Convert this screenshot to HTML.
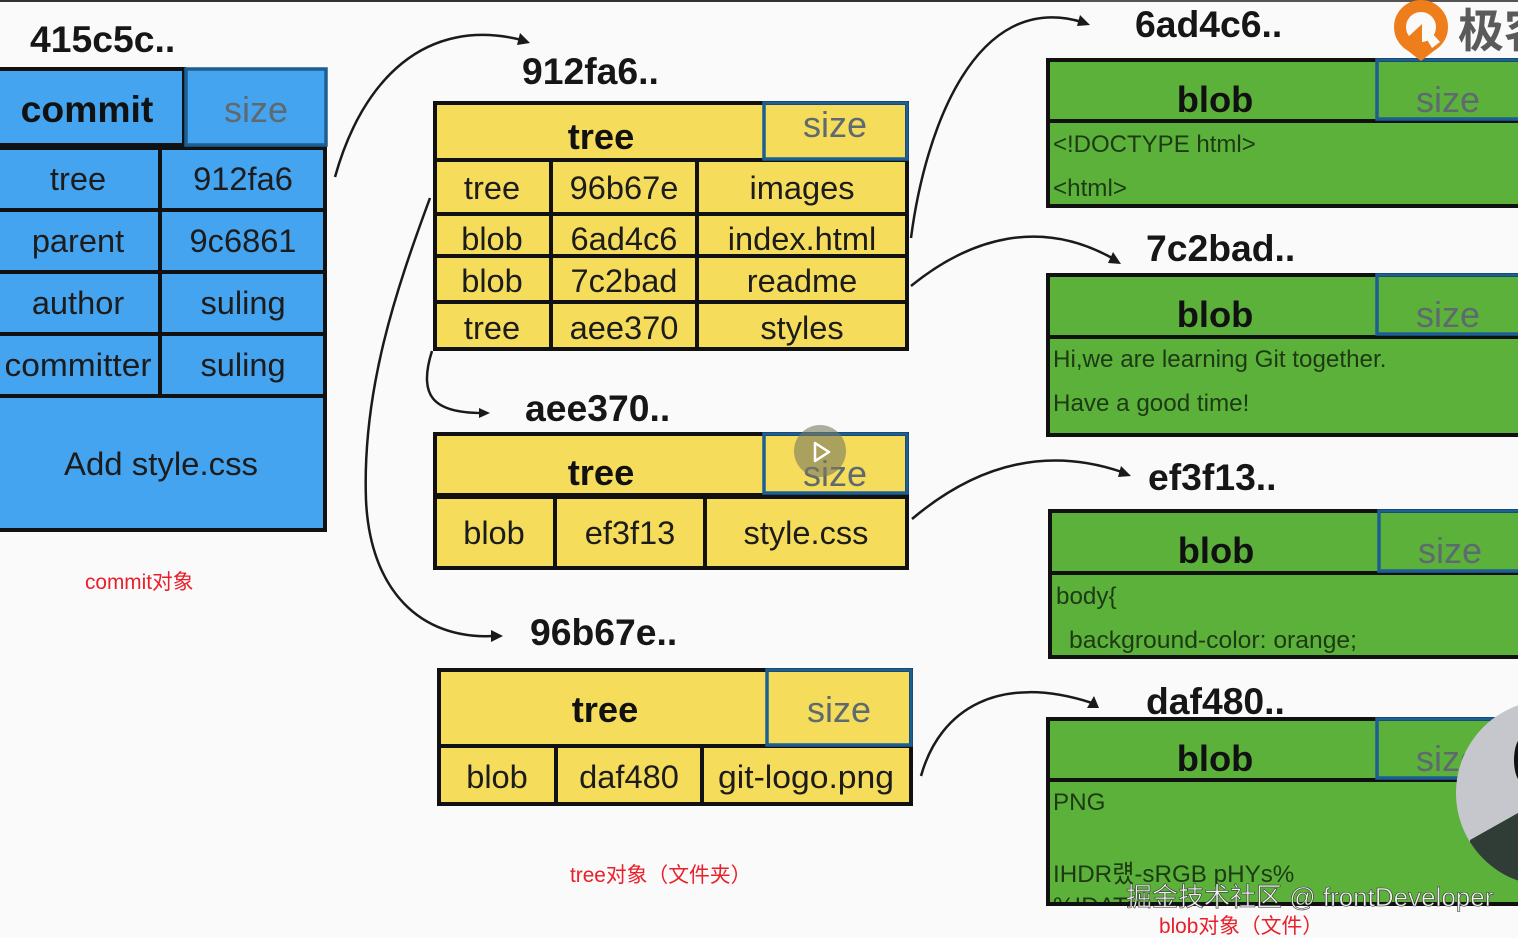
<!DOCTYPE html>
<html><head><meta charset="utf-8">
<style>
html,body{margin:0;padding:0;background:#fafafa}
svg{display:block}
text{font-family:"Liberation Sans","Noto Sans CJK SC",sans-serif;fill:#1c1c1c}
.t{font-size:37.3px;font-weight:bold;fill:#161616}
.h{font-size:36.3px;font-weight:bold;text-anchor:middle;fill:#111}
.s{font-size:36px;text-anchor:middle;fill:#5f6a70}
.c{font-size:32.6px;text-anchor:middle}
.b{font-size:24.2px;fill:#1d3a14}
.r{font-size:20.8px;fill:#e8202a}
.l{stroke:#111;stroke-width:4;fill:none}
.k{stroke:#1d5f93;stroke-width:3.5;fill:none}
.a{stroke:#1a1a1a;stroke-width:2.5;fill:none}
.p{fill:#1a1a1a}
</style></head>
<body>
<svg width="1518" height="938" viewBox="0 0 1518 938" xmlns="http://www.w3.org/2000/svg">
<defs><clipPath id="av"><circle cx="1549" cy="793" r="93"/></clipPath></defs>
<rect width="1518" height="938" fill="#fafafa"/>
<rect width="1080" height="2" fill="#333"/>
<rect x="1080" width="438" height="2" fill="#555"/>

<!-- commit -->
<rect x="-4" y="68" width="330" height="463" fill="#44a4f0"/>
<g class="l">
<rect x="-4" y="69" width="188" height="76" />
<path d="M-4 148H325V530H-4"/>
<path d="M160 148V396M-4 210H325M-4 272H325M-4 334H325M-4 396H325"/>
</g>
<rect x="186" y="69" width="140" height="76" class="k"/>
<text x="87" y="122" class="h" style="font-size:37.3px">commit</text>
<text x="256" y="122" class="s">size</text>
<text x="78" y="190" class="c">tree</text><text x="243" y="190" class="c">912fa6</text>
<text x="78" y="252" class="c">parent</text><text x="243" y="252" class="c">9c6861</text>
<text x="78" y="314" class="c">author</text><text x="243" y="314" class="c">suling</text>
<text x="78" y="376" class="c" textLength="147" lengthAdjust="spacingAndGlyphs">committer</text><text x="243" y="376" class="c">suling</text>
<text x="161" y="475" class="c" textLength="194" lengthAdjust="spacingAndGlyphs">Add style.css</text>
<text x="30" y="52" class="t">415c5c..</text>
<text x="85" y="589" class="r">commit对象</text>

<!-- tree 912fa6 -->
<rect x="435" y="103" width="472" height="246" fill="#f5dc5a"/>
<g class="l">
<rect x="435" y="103" width="472" height="246"/>
<path d="M435 160H907M435 214H907M435 256H907M435 302H907M551 160V349M697 160V349"/>
</g>
<path d="M764 103H907V159H764Z" class="k"/>
<text x="522" y="84" class="t">912fa6..</text>
<text x="601" y="149" class="h">tree</text><text x="835" y="137" class="s">size</text>
<text x="492" y="199" class="c">tree</text><text x="624" y="199" class="c">96b67e</text><text x="802" y="199" class="c">images</text>
<text x="492" y="250" class="c">blob</text><text x="624" y="250" class="c">6ad4c6</text><text x="802" y="250" class="c">index.html</text>
<text x="492" y="292" class="c">blob</text><text x="624" y="292" class="c">7c2bad</text><text x="802" y="292" class="c">readme</text>
<text x="492" y="339" class="c">tree</text><text x="624" y="339" class="c">aee370</text><text x="802" y="339" class="c">styles</text>

<!-- tree aee370 -->
<rect x="435" y="434" width="472" height="134" fill="#f5dc5a"/>
<g class="l">
<rect x="435" y="434" width="472" height="134"/>
<path d="M435 496H907" stroke-width="6"/>
<path d="M555 496V568M705 496V568"/>
</g>
<path d="M764 434H907V493H764Z" class="k"/>
<text x="525" y="421" class="t">aee370..</text>
<text x="601" y="485" class="h">tree</text>
<text x="835" y="486" class="s">size</text>
<circle cx="820" cy="451" r="26" fill="#7a7a60" fill-opacity=".6"/>
<path d="M815 443L829 452L815 461Z" fill="none" stroke="#fff" stroke-width="2.5" stroke-linejoin="round"/>
<text x="494" y="544" class="c">blob</text><text x="630" y="544" class="c">ef3f13</text><text x="806" y="544" class="c">style.css</text>

<!-- tree 96b67e -->
<rect x="439" y="670" width="472" height="134" fill="#f5dc5a"/>
<g class="l">
<rect x="439" y="670" width="472" height="134"/>
<path d="M439 746H911"/>
<path d="M556 746V804M702 746V804"/>
</g>
<path d="M767 670H911V745H767Z" class="k"/>
<text x="530" y="645" class="t">96b67e..</text>
<text x="605" y="722" class="h">tree</text><text x="839" y="722" class="s">size</text>
<text x="497" y="788" class="c">blob</text><text x="629" y="788" class="c">daf480</text><text x="806" y="788" class="c" textLength="176" lengthAdjust="spacingAndGlyphs">git-logo.png</text>
<text x="570" y="882" class="r">tree对象（文件夹）</text>

<!-- blobs -->
<g>
<rect x="1048" y="60" width="480" height="146" fill="#5bb13a"/>
<path d="M1530 60H1048V206H1530M1048 121H1530" class="l"/>
<path d="M1377 60H1530V119H1377Z" class="k"/>
<text x="1135" y="37" class="t">6ad4c6..</text>
<text x="1215" y="112" class="h">blob</text><text x="1448" y="112" class="s">size</text>
<text x="1053" y="152" class="b" style="font-size:24px">&lt;!DOCTYPE html&gt;</text>
<text x="1053" y="196" class="b">&lt;html&gt;</text>
</g>
<g>
<rect x="1048" y="275" width="480" height="160" fill="#5bb13a"/>
<path d="M1530 275H1048V435H1530M1048 337H1530" class="l"/>
<path d="M1377 275H1530V334H1377Z" class="k"/>
<text x="1146" y="261" class="t">7c2bad..</text>
<text x="1215" y="327" class="h">blob</text><text x="1448" y="327" class="s">size</text>
<text x="1053" y="367" class="b">Hi,we are learning Git together.</text>
<text x="1053" y="411" class="b">Have a good time!</text>
</g>
<g>
<rect x="1050" y="511" width="480" height="146" fill="#5bb13a"/>
<path d="M1532 511H1050V657H1532M1050 573H1532" class="l"/>
<path d="M1379 511H1532V571H1379Z" class="k"/>
<text x="1148" y="490" class="t">ef3f13..</text>
<text x="1216" y="563" class="h">blob</text><text x="1450" y="563" class="s">size</text>
<text x="1056" y="604" class="b">body{</text>
<text x="1069" y="648" class="b" textLength="288" lengthAdjust="spacingAndGlyphs">background-color: orange;</text>
</g>
<g>
<rect x="1048" y="719" width="480" height="185" fill="#5bb13a"/>
<text x="1053" y="882" class="b">IHDR럤-sRGB pHYs%</text>
<text x="1053" y="914" class="b">%IDATx</text>
<rect x="1040" y="904" width="490" height="20" fill="#fafafa"/>
<path d="M1530 719H1048V904H1530M1048 780H1530" class="l"/>
<path d="M1377 719H1530V778H1377Z" class="k"/>
<text x="1146" y="714" class="t">daf480..</text>
<text x="1215" y="771" class="h">blob</text><text x="1448" y="771" class="s">size</text>
<text x="1053" y="810" class="b">PNG</text>
</g>
<text x="1159" y="933" class="r">blob对象（文件）</text>

<!-- arrows -->
<g class="a">
<path d="M335 177C362 80 425 16 522 40"/>
<path d="M430 198C396 290 362 390 366 500C370 590 420 640 494 636"/>
<path d="M432 351C418 395 432 413 482 413"/>
<path d="M911 238C925 130 975 -10 1082 22"/>
<path d="M911 286C970 238 1040 218 1112 258"/>
<path d="M912 519C970 470 1040 444 1122 472"/>
<path d="M921 776C940 708 1000 673 1092 703"/>
</g>
<g class="p">
<path d="M530 43L520 33L517 45Z"/>
<path d="M503 636L491 630V642Z"/>
<path d="M490 413L479 408V418Z"/>
<path d="M1090 25L1080 15L1077 26Z"/>
<path d="M1121 264L1113 252L1108 263Z"/>
<path d="M1131 476L1121 466L1118 477Z"/>
<path d="M1099 708L1094 696L1087 708Z"/>
</g>

<!-- logo -->
<circle cx="1421" cy="27" r="21" fill="none" stroke="#ee7d1c" stroke-width="12"/>
<path d="M1431 32L1440 42L1432 48L1426 38Z" fill="#fafafa"/>
<path d="M1422 24L1408 37L1422 52Z" fill="#ee7d1c"/>
<path d="M1407 50L1421 61L1435 50Z" fill="#ee7d1c"/>
<text x="1458" y="47" style="font-size:46px;fill:#5a5a5a;font-weight:bold">极客</text>

<!-- avatar -->
<circle cx="1549" cy="793" r="93" fill="#c6c7cd"/>
<g clip-path="url(#av)">
<path d="M1470 840L1518 813V900H1470Z" fill="#2f3d36"/>
</g>
<ellipse cx="1522" cy="760" rx="8" ry="22" fill="#111"/>

<!-- watermark -->
<text x="1126" y="906" style="font-size:26px;fill:#f0f0f0;stroke:#333;stroke-width:.6">掘金技术社区 @ frontDeveloper</text>
</svg>
</body></html>
